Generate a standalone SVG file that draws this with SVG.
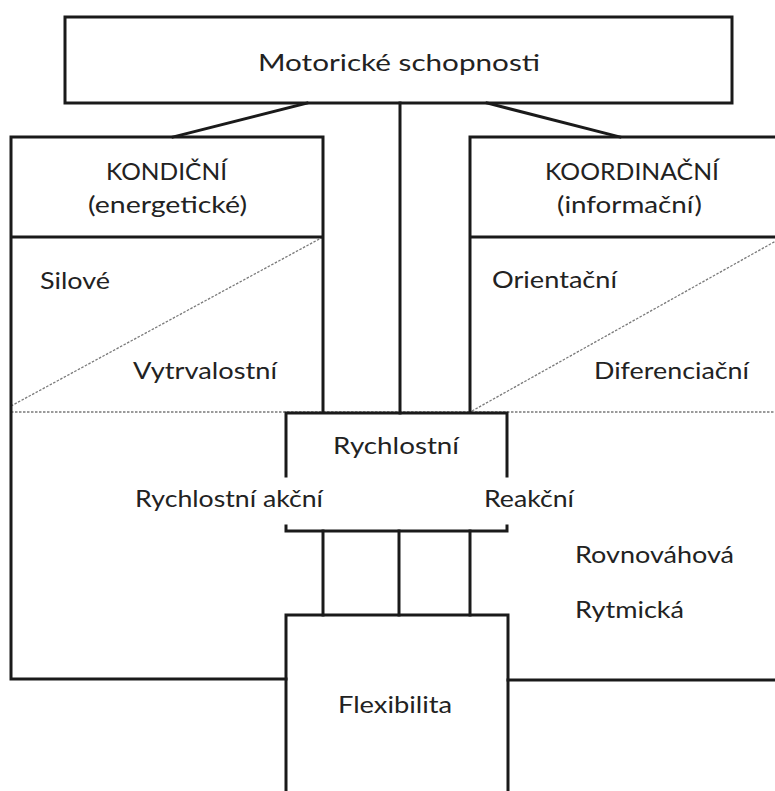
<svg xmlns="http://www.w3.org/2000/svg" width="775" height="791" viewBox="0 0 775 791">
<style>
.ln{stroke:#1a1a1a;stroke-width:3;fill:none;stroke-linecap:square}
.dash{stroke:#7a7a7a;stroke-width:1.3;stroke-dasharray:2.5 1.5;fill:none}
text{font-family:Lato,"Open Sans","Liberation Sans",sans-serif;font-size:24px;fill:#222}
</style>
<rect width="775" height="791" fill="#fff"/>
<g id="dividers">
<line class="dash" x1="11" y1="412" x2="775" y2="412"/>
<line class="dash" x1="11" y1="406" x2="323" y2="237"/>
<line class="dash" x1="472" y1="411" x2="783" y2="237"/>
</g>
<g id="connectors">
<line class="ln" x1="307" y1="103" x2="173" y2="137"/>
<line class="ln" x1="487" y1="103" x2="620" y2="137"/>
<line class="ln" x1="400" y1="103" x2="400" y2="413"/>
<line class="ln" x1="323" y1="531" x2="323" y2="615"/>
<line class="ln" x1="399" y1="531" x2="399" y2="615"/>
<line class="ln" x1="470" y1="531" x2="470" y2="615"/>
</g>
<g id="motoricke">
<rect class="ln" x="65" y="17" width="667" height="86" fill="#fff"/>
<text x="258" y="71" textLength="282" lengthAdjust="spacingAndGlyphs">Motorické schopnosti</text>
</g>
<g id="kondicni">
<path class="ln" d="M286,679 H11 V137 H323 V411 M11,237 H323"/>
<text x="106" y="180" textLength="121" lengthAdjust="spacingAndGlyphs">KONDIČNÍ</text>
<text x="88" y="213" textLength="159" lengthAdjust="spacingAndGlyphs">(energetické)</text>
<text x="40" y="289" textLength="70" lengthAdjust="spacingAndGlyphs">Silové</text>
<text x="133" y="379" textLength="144" lengthAdjust="spacingAndGlyphs">Vytrvalostní</text>
<text x="135" y="507" textLength="188" lengthAdjust="spacingAndGlyphs">Rychlostní akční</text>
</g>
<g id="koordinacni">
<path class="ln" d="M470,411 V137 H778 M470,237 H778 M508,680 H778"/>
<text x="545" y="180" textLength="174" lengthAdjust="spacingAndGlyphs">KOORDINAČNÍ</text>
<text x="557" y="213" textLength="145" lengthAdjust="spacingAndGlyphs">(informační)</text>
<text x="492" y="288" textLength="125" lengthAdjust="spacingAndGlyphs">Orientační</text>
<text x="594" y="379" textLength="155" lengthAdjust="spacingAndGlyphs">Diferenciační</text>
<text x="484" y="507" textLength="90" lengthAdjust="spacingAndGlyphs">Reakční</text>
<text x="575" y="563" textLength="159" lengthAdjust="spacingAndGlyphs">Rovnováhová</text>
<text x="575" y="618" textLength="109" lengthAdjust="spacingAndGlyphs">Rytmická</text>
</g>
<g id="rychlostni">
<path class="ln" d="M286,476 V413 H507 V476 M286,526 V531 H507 V526"/>
<text x="333" y="454" textLength="126" lengthAdjust="spacingAndGlyphs">Rychlostní</text>
</g>
<g id="flexibilita">
<path class="ln" d="M286,795 V615 H508 V795"/>
<text x="338" y="713" textLength="114" lengthAdjust="spacingAndGlyphs">Flexibilita</text>
</g>
</svg>
